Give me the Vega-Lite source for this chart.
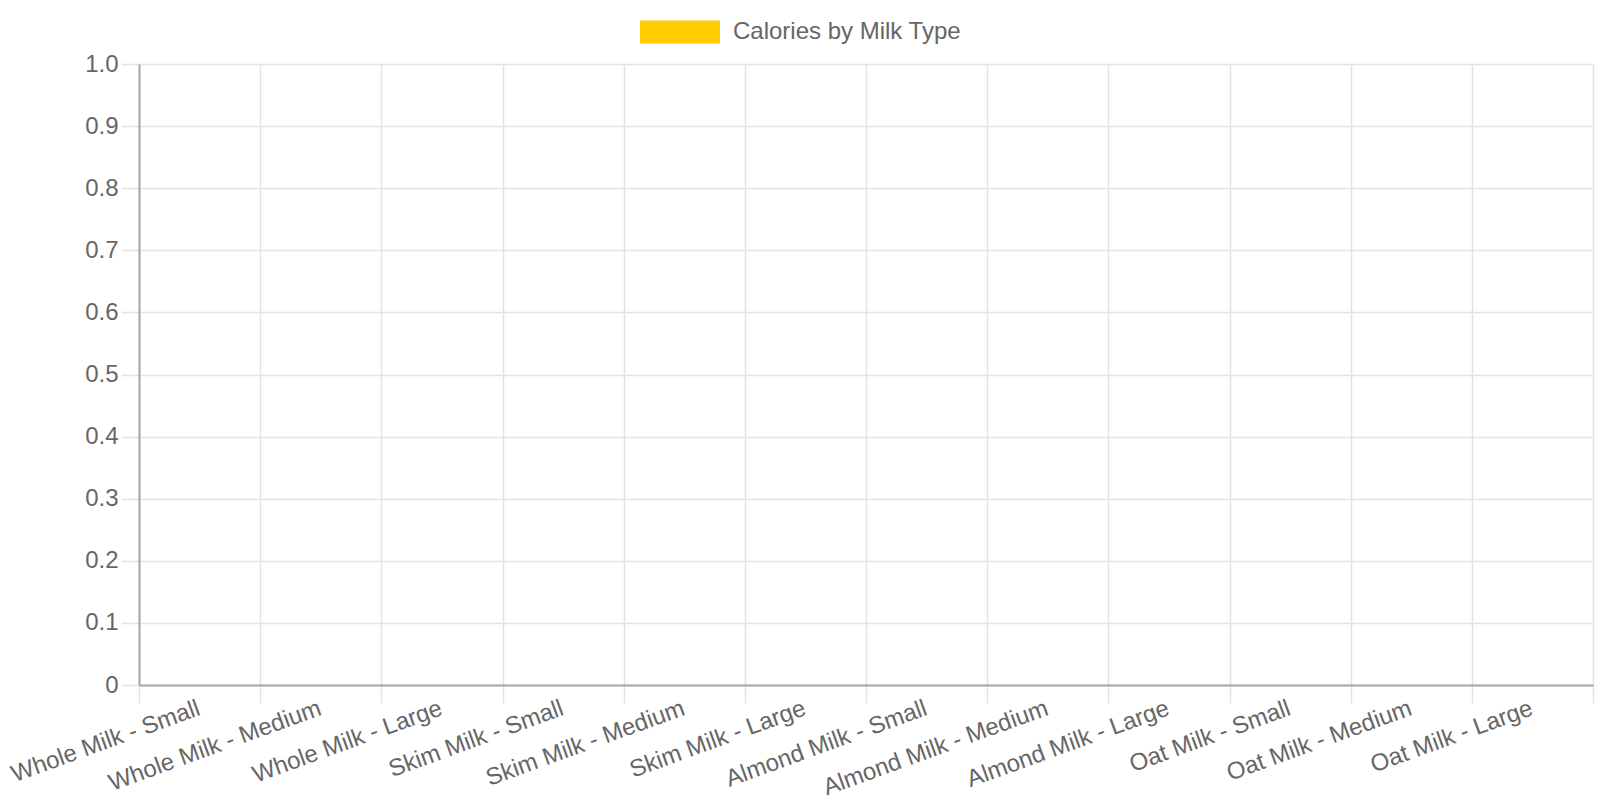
{
  "$schema": "https://vega.github.io/schema/vega-lite/v6.json",
  "width": 1454,
  "height": 621,
  "autosize": {"type": "none"},
  "padding": {"left": 139, "top": 64, "right": 7, "bottom": 115},
  "background": "white",
  "data": {
    "values": [
      {"drink": "Whole Milk - Small", "calories": 0, "series": "Calories by Milk Type"},
      {"drink": "Whole Milk - Medium", "calories": 0, "series": "Calories by Milk Type"},
      {"drink": "Whole Milk - Large", "calories": 0, "series": "Calories by Milk Type"},
      {"drink": "Skim Milk - Small", "calories": 0, "series": "Calories by Milk Type"},
      {"drink": "Skim Milk - Medium", "calories": 0, "series": "Calories by Milk Type"},
      {"drink": "Skim Milk - Large", "calories": 0, "series": "Calories by Milk Type"},
      {"drink": "Almond Milk - Small", "calories": 0, "series": "Calories by Milk Type"},
      {"drink": "Almond Milk - Medium", "calories": 0, "series": "Calories by Milk Type"},
      {"drink": "Almond Milk - Large", "calories": 0, "series": "Calories by Milk Type"},
      {"drink": "Oat Milk - Small", "calories": 0, "series": "Calories by Milk Type"},
      {"drink": "Oat Milk - Medium", "calories": 0, "series": "Calories by Milk Type"},
      {"drink": "Oat Milk - Large", "calories": 0, "series": "Calories by Milk Type"}
    ]
  },
  "mark": {"type": "bar"},
  "encoding": {
    "x": {
      "field": "drink",
      "type": "nominal",
      "sort": null,
      "title": null,
      "scale": {"paddingInner": 0, "paddingOuter": 0},
      "axis": {
        "tickBand": "extent",
        "labelAngle": -20,
        "labelAlign": "right",
        "labelBaseline": "top",
        "labelPadding": -7,
        "labelOffset": -5,
        "labelLimit": 0,
        "labelOverlap": false,
        "tickSize": 18
      }
    },
    "y": {
      "field": "calories",
      "type": "quantitative",
      "title": null,
      "scale": {"domain": [0, 1], "nice": false},
      "axis": {
        "values": [0, 0.1, 0.2, 0.3, 0.4, 0.5, 0.6, 0.7, 0.8, 0.9, 1.0],
        "labelExpr": "datum.value == 0 ? '0' : format(datum.value, '.1f')",
        "tickSize": 18,
        "labelPadding": 3
      }
    },
    "color": {
      "field": "series",
      "type": "nominal",
      "scale": {"range": ["#ffcc00"]},
      "legend": {
        "title": null,
        "orient": "none",
        "legendX": 501,
        "legendY": -72,
        "padding": 0,
        "symbolType": "M-1,-0.2875H1V0.2875H-1Z",
        "symbolSize": 6400,
        "symbolStrokeWidth": 0,
        "symbolOpacity": 1,
        "labelOffset": 13,
        "labelLimit": 0,
        "labelFontSize": 24,
        "labelColor": "#666666",
        "labelFont": "Liberation Sans"
      }
    }
  },
  "config": {
    "view": {"stroke": null},
    "axis": {
      "labelFont": "Liberation Sans",
      "labelFontSize": 24,
      "labelColor": "#666666",
      "grid": true,
      "gridColor": "#e3e3e3",
      "gridWidth": 1.5,
      "tickColor": "#e3e3e3",
      "tickWidth": 1.5,
      "domainColor": "#a6a6a6",
      "domainWidth": 2
    }
  }
}
